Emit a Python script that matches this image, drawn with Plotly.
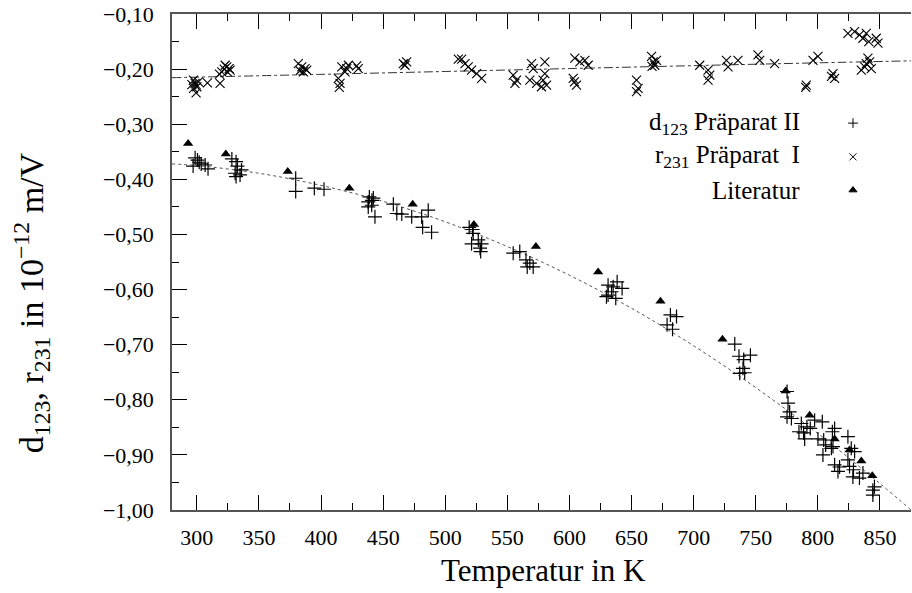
import plotly.graph_objects as go

# ---------------- data ----------------
d123_T = [298.6, 301.9, 297.0, 306.7, 309.0, 300.5, 303.5,
          328.2, 331.6, 332.7, 330.8, 334.8, 331.6, 336.0,
          379.6, 379.6, 394.6, 402.4,
          438.9, 442.1, 438.0, 440.8, 438.0, 443.4, 441.0,
          458.2, 461.0, 465.0, 473.0, 481.0, 481.8, 486.3, 489.0,
          519.3, 522.0, 522.5, 521.2, 526.6, 529.3, 528.0, 528.5,
          554.7, 560.0, 565.0, 568.1, 566.0, 570.8,
          631.1, 635.2, 638.4, 629.8, 637.3, 633.9, 642.4, 631.1,
          681.3, 686.2, 678.6, 683.0,
          733.1, 736.5, 740.3, 745.7, 737.1, 741.1, 739.7,
          775.2, 776.0, 777.3, 775.2, 778.7,
          786.7, 784.8, 791.2, 789.4, 797.4, 803.6, 788.5, 793.9,
          800.1, 804.7, 806.3, 804.1, 812.2, 813.5, 811.7, 810.9,
          813.5, 817.5, 816.2, 824.2, 826.9, 829.6, 825.5, 828.7,
          828.2, 833.5, 836.3, 844.3, 844.3, 824.2, 845.6]
d123_v = [-0.361, -0.369, -0.376, -0.374, -0.381, -0.365, -0.372,
          -0.363, -0.368, -0.376, -0.389, -0.392, -0.395, -0.383,
          -0.398, -0.422, -0.416, -0.418,
          -0.432, -0.434, -0.441, -0.447, -0.450, -0.468, -0.438,
          -0.445, -0.462, -0.463, -0.468, -0.468, -0.487, -0.456, -0.496,
          -0.487, -0.491, -0.498, -0.517, -0.510, -0.517, -0.525, -0.531,
          -0.534, -0.531, -0.546, -0.552, -0.559, -0.559,
          -0.592, -0.595, -0.586, -0.613, -0.616, -0.604, -0.598, -0.610,
          -0.646, -0.649, -0.664, -0.672,
          -0.699, -0.721, -0.727, -0.719, -0.752, -0.751, -0.743,
          -0.785, -0.806, -0.822, -0.831, -0.834,
          -0.843, -0.858, -0.849, -0.871, -0.837, -0.840, -0.860, -0.852,
          -0.871, -0.873, -0.882, -0.900, -0.885, -0.852, -0.858, -0.888,
          -0.918, -0.922, -0.930, -0.867, -0.888, -0.894, -0.921, -0.927,
          -0.940, -0.942, -0.933, -0.964, -0.973, -0.909, -0.958]

r231_T = [297.3, 298.6, 300.0, 297.3, 299.4, 301.3, 296.0,
          308.5, 318.7,
          318.2, 320.1, 322.0, 324.1, 326.0, 324.6, 326.8, 322.8,
          381.7, 384.5, 387.1, 385.8, 388.5, 383.1,
          413.9, 415.3, 414.7, 416.7, 419.3, 422.0, 420.7, 430.0, 428.7,
          466.2, 468.9, 467.6,
          510.5, 513.2, 515.9, 518.5, 521.2, 525.3, 529.3,
          554.7, 557.4, 556.1,
          569.5, 570.8, 580.2, 568.1, 573.5, 577.5, 578.8, 581.6, 580.2,
          604.3, 608.4, 612.4, 615.1, 603.0, 605.7, 604.0,
          654.0, 655.3, 654.0,
          666.1, 667.4, 668.7, 670.1, 666.5,
          704.9, 711.6, 713.0, 711.6,
          726.4, 727.7, 735.7,
          751.8, 753.2,
          765.2,
          796.1, 800.1, 790.7, 790.2,
          812.2, 813.5, 811.0,
          824.2, 829.6, 833.5, 836.3, 839.0, 847.0, 848.4, 841.0,
          835.0, 837.7, 840.3, 841.7, 843.0, 839.0]
r231_v = [-0.220, -0.226, -0.232, -0.235, -0.243, -0.223, -0.228,
          -0.225, -0.226,
          -0.209, -0.205, -0.200, -0.196, -0.199, -0.205, -0.202, -0.193,
          -0.190, -0.196, -0.199, -0.205, -0.202, -0.203,
          -0.217, -0.226, -0.233, -0.196, -0.205, -0.193, -0.199, -0.199, -0.194,
          -0.190, -0.187, -0.193,
          -0.182, -0.182, -0.190, -0.196, -0.202, -0.208, -0.217,
          -0.211, -0.220, -0.226,
          -0.190, -0.199, -0.187, -0.220, -0.226, -0.232, -0.220, -0.229, -0.208,
          -0.180, -0.187, -0.184, -0.193, -0.217, -0.229, -0.223,
          -0.220, -0.235, -0.241,
          -0.177, -0.187, -0.193, -0.184, -0.195,
          -0.193, -0.202, -0.211, -0.220,
          -0.184, -0.196, -0.184,
          -0.174, -0.184,
          -0.190,
          -0.184, -0.177, -0.229, -0.233,
          -0.208, -0.217, -0.213,
          -0.135, -0.132, -0.138, -0.144, -0.135, -0.144, -0.153, -0.150,
          -0.202, -0.196, -0.180, -0.187, -0.199, -0.190]

lit_T = [293.0, 323.3, 373.2, 422.8, 473.8, 523.1, 573.0, 623.1, 673.3,
         723.2, 774.1, 793.4, 813.5, 825.5, 835.0, 843.8]
lit_v = [-0.335, -0.354, -0.386, -0.416, -0.445, -0.482, -0.522, -0.568, -0.621,
         -0.690, -0.784, -0.828, -0.871, -0.891, -0.911, -0.938]

# fit curves
fit_d_T = [280, 300, 350, 400, 450, 500, 550, 600, 650, 700, 750, 800, 850, 875]
fit_d_v = [-0.372, -0.375, -0.389, -0.411, -0.440, -0.477, -0.522, -0.574,
           -0.634, -0.702, -0.778, -0.861, -0.952, -1.000]
fit_r_T = [280, 400, 500, 600, 700, 800, 875]
fit_r_v = [-0.2156, -0.2095, -0.2043, -0.1990, -0.1937, -0.1886, -0.1850]

x_ticks = [300, 350, 400, 450, 500, 550, 600, 650, 700, 750, 800, 850]
y_ticks = [-1.0, -0.9, -0.8, -0.7, -0.6, -0.5, -0.4, -0.3, -0.2, -0.1]
y_ticktext = ["\u22121,00", "\u22120,90", "\u22120,80", "\u22120,70", "\u22120,60",
              "\u22120,50", "\u22120,40", "\u22120,30", "\u22120,20", "\u22120,10"]

legend_labels = ["d<sub>123</sub> Präparat II", "r<sub>231</sub> Präparat  I", "Literatur"]
legend_symbols = ["cross-thin-open", "x-thin-open", "triangle-up"]
legend_rows = [0.780, 0.712, 0.645]   # paper y of legend rows

FONT = "Liberation Serif"

fig = go.Figure()

fig.add_trace(go.Scatter(x=fit_d_T, y=fit_d_v, mode="lines", line_shape="spline",
                         line=dict(color="#555555", width=1, dash="dot"), showlegend=False))
fig.add_trace(go.Scatter(x=fit_r_T, y=fit_r_v, mode="lines", line_shape="spline",
                         line=dict(color="#333333", width=1, dash="dashdot"), showlegend=False))

fig.add_trace(go.Scatter(x=d123_T, y=d123_v, mode="markers", name=legend_labels[0],
                         marker=dict(symbol="cross-thin-open", size=10, color="black",
                                     line=dict(color="black", width=1.2)),
                         showlegend=False))
fig.add_trace(go.Scatter(x=r231_T, y=r231_v, mode="markers", name=legend_labels[1],
                         marker=dict(symbol="x-thin-open", size=9, color="black",
                                     line=dict(color="black", width=1.1)),
                         showlegend=False))
fig.add_trace(go.Scatter(x=lit_T, y=lit_v, mode="markers", name=legend_labels[2],
                         marker=dict(symbol="triangle-up", size=9, color="black",
                                     line=dict(width=0)),
                         showlegend=False))

# legend keys (drawn on an invisible overlay axis so they sit at the gnuplot legend spot)
key_sizes = [7, 7, 7]
for sym, yy, sz in zip(legend_symbols, legend_rows, key_sizes):
    fig.add_trace(go.Scatter(x=[0.9215], y=[yy], xaxis="x2", yaxis="y2", mode="markers",
                             marker=dict(symbol=sym, size=sz, color="black",
                                         line=dict(color="black", width=1)),
                             showlegend=False, hoverinfo="skip"))

annotations = []
for lab, yy in zip(legend_labels, legend_rows):
    annotations.append(dict(text=lab, xref="paper", yref="paper", x=0.8525, y=yy,
                            xanchor="right", yanchor="middle", showarrow=False,
                            font=dict(family=FONT, size=25, color="black")))
annotations.append(dict(text="Temperatur in K", xref="paper", yref="paper",
                        x=0.503, y=-0.121, xanchor="center", yanchor="middle",
                        showarrow=False, font=dict(family=FONT, size=31, color="black")))
annotations.append(dict(text="d<sub>123</sub>, r<sub>231</sub> in 10<sup>\u221212</sup> m/V",
                        xref="paper", yref="paper", x=-0.19, y=0.418, textangle=-90,
                        xanchor="center", yanchor="middle", showarrow=False,
                        font=dict(family=FONT, size=34, color="black")))

fig.update_layout(
    width=912, height=593,
    margin=dict(l=172, r=1, t=14, b=83),
    paper_bgcolor="white", plot_bgcolor="white",
    showlegend=False,
    font=dict(family=FONT, color="black"),
    annotations=annotations,
    xaxis=dict(range=[280, 875], tickmode="array", tickvals=x_ticks,
               ticks="inside", ticklen=15, tickwidth=1, tickcolor="black",
               showline=True, linecolor="#555555", linewidth=1.5, mirror="ticks",
               showgrid=False, zeroline=False, ticklabelstandoff=7,
               tickfont=dict(family=FONT, size=22, color="black"),
               minor=dict(dtick=25, tick0=275, ticks="inside", ticklen=7,
                          tickcolor="black", tickwidth=1, showgrid=False)),
    yaxis=dict(range=[-1.0, -0.1], tickmode="array", tickvals=y_ticks, ticktext=y_ticktext,
               ticks="inside", ticklen=15, tickwidth=1, tickcolor="black",
               showline=True, linecolor="#555555", linewidth=1.5, mirror=False,
               showgrid=False, zeroline=False, ticklabelstandoff=12,
               tickfont=dict(family=FONT, size=22, color="black"),
               minor=dict(dtick=0.05, tick0=-1.0, ticks="inside", ticklen=7,
                          tickcolor="black", tickwidth=1, showgrid=False)),
    xaxis2=dict(overlaying="x", range=[0, 1], visible=False),
    yaxis2=dict(overlaying="y", range=[0, 1], visible=False),
)

fig.write_html("out.html")
